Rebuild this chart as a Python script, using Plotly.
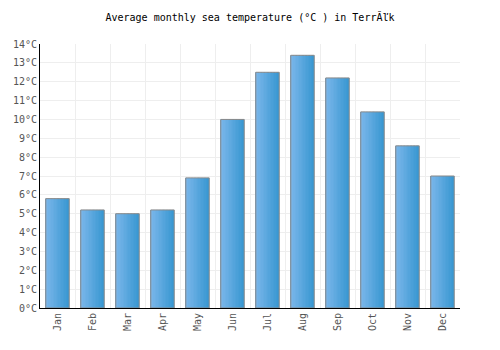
import plotly.graph_objects as go

months = ["Jan", "Feb", "Mar", "Apr", "May", "Jun", "Jul", "Aug", "Sep", "Oct", "Nov", "Dec"]
temps = [5.8, 5.2, 5.0, 5.2, 6.9, 10.0, 12.5, 13.4, 12.2, 10.4, 8.6, 7.0]
y_ticks = list(range(0, 15))
y_labels = [f"{v}°C" for v in y_ticks]
title = "Average monthly sea temperature (°C ) in TerrĂľk"

font = "DejaVu Sans Mono"
bar_w = 0.67
n_strips = 16
c_left = (122, 182, 234)
c_right = (58, 152, 210)

fig = go.Figure()
for i in range(n_strips):
    t = i / (n_strips - 1)
    c = tuple(round(a + (b - a) * t) for a, b in zip(c_left, c_right))
    fig.add_trace(go.Bar(
        x=months, y=temps,
        width=bar_w / n_strips * 1.05,
        offset=-bar_w / 2 + i * bar_w / n_strips,
        marker=dict(color=f"rgb{c}", line=dict(width=0)),
        hoverinfo="skip",
    ))
fig.add_trace(go.Bar(
    x=months, y=temps, width=bar_w, offset=-bar_w / 2,
    marker=dict(color="rgba(0,0,0,0)", line=dict(color="#888888", width=1)),
    hoverinfo="x+y",
))

fig.update_layout(
    width=500, height=350,
    margin=dict(l=40, r=40, t=44, b=42),
    paper_bgcolor="white", plot_bgcolor="white",
    title=dict(text=title, x=0.5, xanchor="center", y=0.95, yanchor="middle",
               font=dict(family=font, size=10, color="#000")),
    font=dict(family=font, size=10, color="#555"),
    showlegend=False,
    barmode="overlay",
)
fig.update_xaxes(
    type="category", tickson="boundaries", tickangle=-90,
    showgrid=True, gridcolor="#eeeeee", gridwidth=1,
    showline=True, linecolor="#000", linewidth=1,
    ticks="", tickfont=dict(family=font, size=10, color="#555"),
)
fig.update_yaxes(
    range=[0, 14], tickvals=y_ticks, ticktext=y_labels,
    showgrid=True, gridcolor="#eeeeee", gridwidth=1,
    showline=True, linecolor="#000", linewidth=1,
    ticks="", zeroline=False,
    tickfont=dict(family=font, size=10, color="#555"),
)

fig.write_html("out.html")
